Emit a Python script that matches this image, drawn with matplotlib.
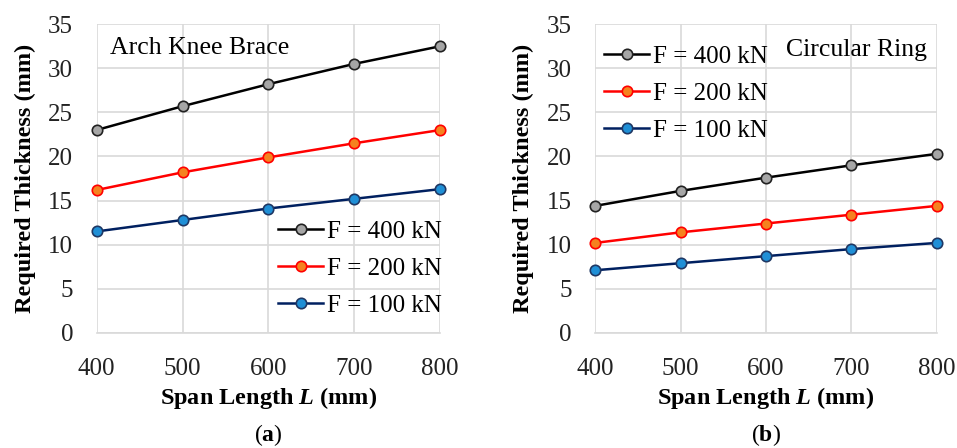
import matplotlib.pyplot as plt

plt.rcParams["font.family"] = ["Liberation Serif", "DejaVu Serif"]
plt.rcParams["mathtext.fontset"] = "custom"
plt.rcParams["mathtext.it"] = "Liberation Serif:bold:italic"
plt.rcParams["mathtext.bf"] = "Liberation Serif:bold"
plt.rcParams["mathtext.rm"] = "Liberation Serif"

span = [400, 500, 600, 700, 800]
labels = ["F = 400 kN", "F = 200 kN", "F = 100 kN"]

# Arch Knee Brace
arch_400 = [23.0, 25.7, 28.2, 30.5, 32.5]
arch_200 = [16.2, 18.2, 19.9, 21.5, 23.0]
arch_100 = [11.5, 12.8, 14.1, 15.2, 16.3]

# Circular Ring
ring_400 = [14.4, 16.1, 17.6, 19.0, 20.3]
ring_200 = [10.2, 11.4, 12.4, 13.4, 14.4]
ring_100 = [7.1, 7.9, 8.7, 9.5, 10.2]

line_colors = ["#000000", "#ff0000", "#002060"]
face_colors = ["#a6a6a6", "#f5821f", "#1f8fd6"]
edge_colors = ["#222222", "#ff0000", "#1f3864"]

fig = plt.figure(figsize=(9.57, 4.48), dpi=100)
ax1 = fig.add_axes([0.101, 0.257, 0.359, 0.689])
ax2 = fig.add_axes([0.622, 0.257, 0.357, 0.689])


def draw(ax, series, title, title_xy, title_ha, leg_anchor, tag):
    for i, ys in enumerate(series):
        ax.plot(span, ys, color=line_colors[i], lw=1.8, marker="o", ms=7.5,
                mfc=face_colors[i], mec=edge_colors[i], mew=1.2,
                label=labels[i], clip_on=False, zorder=3)
    ax.set_xlim(400, 800)
    ax.set_ylim(0, 35)
    ax.set_xticks(span)
    ax.set_yticks(range(0, 36, 5))
    ax.grid(True, color="#d9d9d9", lw=1.2)
    ax.set_axisbelow(True)
    for s in ["top", "right", "left"]:
        ax.spines[s].set_visible(False)
    ax.spines["bottom"].set_color("#d9d9d9")
    ax.spines["bottom"].set_linewidth(1.2)
    ax.tick_params(length=0, labelsize=18, colors="#222222")
    ax.tick_params(axis="x", pad=18)
    ax.tick_params(axis="y", pad=17)
    ax.set_xlabel("Span Length $\\mathit{L}$ (mm)", fontsize=17.5,
                  fontweight="bold", labelpad=4)
    ax.set_ylabel("Required Thickness (mm)", fontsize=17.5, fontweight="bold",
                  labelpad=9)
    ax.text(title_xy[0], title_xy[1], title, transform=ax.transAxes,
            fontsize=18.5, ha=title_ha, va="center")
    ax.legend(loc="center left", bbox_to_anchor=leg_anchor, frameon=False,
              fontsize=18, handlelength=1.8, handletextpad=0.15,
              labelspacing=0.58, borderpad=0, borderaxespad=0)
    ax.text(0.5, -0.33, "(" + "$\\mathbf{" + tag + "}$" + ")",
            transform=ax.transAxes, fontsize=17, ha="center", va="center")


draw(ax1, [arch_400, arch_200, arch_100], "Arch Knee Brace", (0.04, 0.923),
     "left", (0.528, 0.207), "a")
draw(ax2, [ring_400, ring_200, ring_100], "Circular Ring", (0.97, 0.917),
     "right", (0.026, 0.774), "b")

fig.savefig("out.png", dpi=100)
